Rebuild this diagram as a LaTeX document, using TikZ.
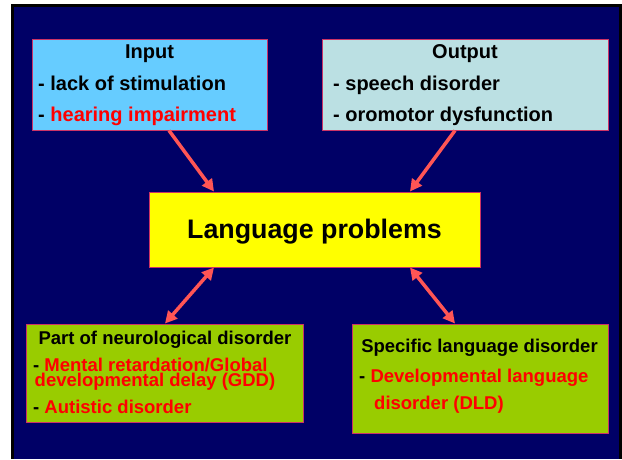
\documentclass[tikz,border=0pt]{standalone}
\usepackage{fontspec}
\setmainfont{Liberation Sans}
\usepackage{xcolor}
\usetikzlibrary{positioning,calc,arrows.meta}

\definecolor{slidenavy}{HTML}{000066}
\definecolor{inputblue}{HTML}{66CCFF}
\definecolor{outputcyan}{HTML}{BBE0E3}
\definecolor{lpyellow}{HTML}{FFFF00}
\definecolor{disgreen}{HTML}{99CC00}
\definecolor{boxedge}{HTML}{CC3366}
\definecolor{arrowred}{HTML}{FF5555}
\definecolor{txtred}{HTML}{FF0000}

\tikzset{
  box/.style={draw=boxedge, line width=1pt, inner sep=0pt},
  txt/.style={inner sep=0pt, font=\bfseries\fontsize{20}{24}\selectfont},
  smalltxt/.style={inner sep=0pt, font=\bfseries\fontsize{18.5}{22}\selectfont},
  arr/.style={draw=arrowred, line width=3.5pt, -{Triangle[length=12pt,width=12pt]}},
  darr/.style={arr, {Triangle[length=12pt,width=12pt]}-{Triangle[length=12pt,width=12pt]}}
}

\begin{document}
\begin{tikzpicture}[x=1pt, y=-1pt]
				\useasboundingbox (0,0) rectangle (622,459);
				% frame of the slide
				\fill[black] (11,4) rectangle (622,459);
				\fill[slidenavy] (14,7) rectangle (619,459);

				% boxes
				\node [box, fill=inputblue, minimum width=235pt, minimum height=91pt] (input) at (149.5,84.5) {};
				\node [box, fill=outputcyan, minimum width=286pt, minimum height=91pt] (output) at (465,84.5) {};
				\node [box, fill=lpyellow, minimum width=331pt, minimum height=75pt] (lp) at (314.5,229.5) {};
				\node [box, fill=disgreen, minimum width=277pt, minimum height=98pt] (neuro) at (164.5,373) {};
				\node [box, fill=disgreen, minimum width=256pt, minimum height=109pt] (specific) at (480,378.5) {};

				% texts
				\node [txt, anchor=base] (intitle) at (149.5,58) {Input};
				\node [txt, anchor=base west] (inone) at (38,90) {- lack of stimulation};
				\node [txt, anchor=base west] (intwo) at (38,121.5) {- \textcolor{txtred}{hearing impairment}};
				\node [txt, anchor=base] (outtitle) at (465,58) {Output};
				\node [txt, anchor=base west] (outone) at (333,90) {- speech disorder};
				\node [txt, anchor=base west] (outtwo) at (333,121.5) {- oromotor dysfunction};
				\node [inner sep=0pt, anchor=base, font=\bfseries\fontsize{26.8}{30}\selectfont] (lptext) at (314.5,238) {Language problems};
				\node [smalltxt, anchor=base] (neurotitle) at (165,344) {Part of neurological disorder};
				\node [smalltxt, anchor=base west] (neuroone) at (33,371) {- \textcolor{txtred}{Mental retardation/Global}};
				\node [smalltxt, anchor=base west, text=txtred] (neurotwo) at (34.5,386) {developmental delay (GDD)};
				\node [smalltxt, anchor=base west] (neurothree) at (33,413) {- \textcolor{txtred}{Autistic disorder}};
				\node [smalltxt, anchor=base] (spectitle) at (479.5,352) {Specific language disorder};
				\node [smalltxt, anchor=base west] (specone) at (359,382) {- \textcolor{txtred}{Developmental language}};
				\node [smalltxt, anchor=base west, text=txtred] (spectwo) at (374,409) {disorder (DLD)};

				% arrows
				\draw [arr] ([xshift=19.5pt]input.south) -- ([xshift=-100.5pt]lp.north);
				\draw [arr] ([xshift=-10pt]output.south) -- ([xshift=95.5pt]lp.north);
				\draw [darr] ([xshift=-100.5pt]lp.south) -- ([xshift=0.5pt]neuro.north);
				\draw [darr] ([xshift=95.5pt]lp.south) -- ([xshift=-25pt]specific.north);
			\end{tikzpicture}
\end{document}
